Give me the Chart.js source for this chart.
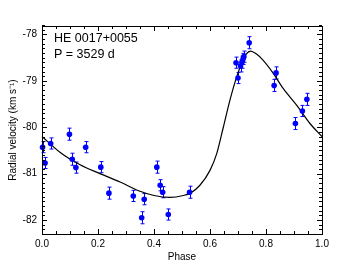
<!DOCTYPE html>
<html>
<head>
<meta charset="utf-8">
<script src="https://cdn.jsdelivr.net/npm/chart.js@4/dist/chart.umd.min.js"></script>
<style>
  html, body { margin: 0; padding: 0; background: #fff; }
  canvas { display: block; }
</style>
</head>
<body>
<canvas id="chart" width="337" height="264"></canvas>
<script>
// observed radial velocities (phase, km/s, error)
const phases = [0.002, 0.011, 0.031, 0.098, 0.108, 0.121, 0.156, 0.210, 0.239,
    0.326, 0.356, 0.365, 0.410, 0.422, 0.431, 0.451, 0.527,
    0.693, 0.700, 0.709, 0.714, 0.718, 0.721, 0.740,
    0.829, 0.836, 0.905, 0.930, 0.946]
const velocities = [-80.43, -80.77, -80.35, -80.15, -80.69, -80.87, -80.43, -80.86, -81.42,
    -81.48, -81.95, -81.55, -80.86, -81.25, -81.40, -81.88, -81.40,
    -78.61, -78.94, -78.68, -78.60, -78.53, -78.48, -78.18,
    -79.10, -78.83, -79.92, -79.65, -79.40]
const errors = [0.12, 0.12, 0.12, 0.13, 0.13, 0.12, 0.12, 0.12, 0.13,
    0.12, 0.13, 0.12, 0.13, 0.12, 0.12, 0.12, 0.13,
    0.12, 0.12, 0.13, 0.13, 0.12, 0.12, 0.13,
    0.13, 0.13, 0.13, 0.12, 0.13]

// orbit fit
const fitPhase = [0.0, 0.064, 0.136, 0.207, 0.279, 0.35, 0.40, 0.457, 0.505, 0.53, 0.564,
    0.60, 0.624, 0.648, 0.671, 0.695, 0.713, 0.73, 0.745, 0.765, 0.79, 0.826, 0.862,
    0.91, 0.957, 1.0]
const fitVelocity = [-80.20, -80.54, -80.81, -81.00, -81.18, -81.38, -81.47, -81.51, -81.47, -81.42, -81.25,
    -80.93, -80.57, -79.99, -79.42, -78.92, -78.63, -78.42, -78.36, -78.42, -78.56, -78.84, -79.17,
    -79.53, -79.92, -80.20]

const xTicks = [0, 0.2, 0.4, 0.6, 0.8, 1.0]
const yTicks = [-82, -81, -80, -79, -78]
const labelLines = ['HE 0017+0055', 'P = 3529 d']

const font = { family: "'Liberation Sans', Arial, sans-serif", size: 10 }

const frame = {
    id: 'frame',
    beforeDatasetsDraw(chart) {
        // error bars
        const { ctx, scales: { x, y } } = chart
        ctx.save()
        ctx.strokeStyle = '#0000ff'
        ctx.lineWidth = 1
        phases.forEach((p, i) => {
            const px = Math.round(x.getPixelForValue(p)) + 0.5
            const top = y.getPixelForValue(velocities[i] + errors[i])
            const bot = y.getPixelForValue(velocities[i] - errors[i])
            ctx.beginPath()
            ctx.moveTo(px, top); ctx.lineTo(px, bot)
            ctx.moveTo(px - 2, top); ctx.lineTo(px + 2, top)
            ctx.moveTo(px - 2, bot); ctx.lineTo(px + 2, bot)
            ctx.stroke()
        })
        ctx.restore()
    },
    afterDraw(chart) {
        const { ctx, chartArea: a, scales: { x, y } } = chart
        ctx.save()
        ctx.strokeStyle = '#000'
        ctx.lineWidth = 1
        ctx.strokeRect(a.left + 0.5, a.top + 0.5, a.right - a.left, a.bottom - a.top)
        ctx.beginPath()
        for (let i = 0; i <= 20; i++) {
            const v = i * 0.05
            const px = Math.round(x.getPixelForValue(v)) + 0.5
            const len = i % 4 === 0 ? 5 : 3
            ctx.moveTo(px, a.bottom); ctx.lineTo(px, a.bottom - len)
            ctx.moveTo(px, a.top); ctx.lineTo(px, a.top + len)
        }
        for (let i = -823; i <= -778; i++) {
            const v = i / 10
            const py = Math.round(y.getPixelForValue(v)) + 0.5
            const len = i % 10 === 0 ? 5 : 3
            ctx.moveTo(a.left, py); ctx.lineTo(a.left + len, py)
            ctx.moveTo(a.right, py); ctx.lineTo(a.right - len, py)
        }
        ctx.stroke()

        ctx.fillStyle = '#000'
        ctx.font = "12.5px 'Liberation Sans', Arial, sans-serif"
        ctx.textBaseline = 'alphabetic'
        ctx.fillText(labelLines[0], 54, 42)
        ctx.fillText(labelLines[1], 54, 57.5)
        ctx.restore()
    }
}

new Chart(document.getElementById('chart'), {
    type: 'scatter',
    data: {
        datasets: [{
            data: phases.map((p, i) => ({ x: p, y: velocities[i] })),
            backgroundColor: '#0000ff',
            borderColor: '#0000ff',
            pointRadius: 2.8,
            borderWidth: 0,
            order: 0
        }, {
            data: fitPhase.map((p, i) => ({ x: p, y: fitVelocity[i] })),
            showLine: true,
            borderColor: '#000',
            borderWidth: 1.2,
            pointRadius: 0,
            cubicInterpolationMode: 'monotone',
            order: 1
        }]
    },
    options: {
        responsive: false,
        animation: false,
        clip: false,
        layout: { padding: { left: 0, top: 26, right: 15, bottom: 0 } },
        plugins: { legend: { display: false }, tooltip: { enabled: false } },
        scales: {
            x: {
                type: 'linear', min: 0, max: 1,
                afterBuildTicks: s => { s.ticks = xTicks.map(v => ({ value: v })) },
                afterFit: s => { s.height = 30 },
                grid: { display: false, drawTicks: false, tickLength: 0 },
                border: { display: false },
                ticks: { font, color: '#000', padding: 4, maxRotation: 0,
                    callback: v => Number(v).toFixed(1) },
                title: { display: true, text: 'Phase', font, color: '#000', padding: { top: 0, bottom: 1 } }
            },
            y: {
                type: 'linear', min: -82.3, max: -77.82,
                afterBuildTicks: s => { s.ticks = yTicks.map(v => ({ value: v })) },
                afterFit: s => { s.width = 42 },
                grid: { display: false, drawTicks: false, tickLength: 0 },
                border: { display: false },
                ticks: { font, color: '#000', padding: 5,
                    callback: v => Number(v).toFixed(0) },
                title: { display: true, text: 'Radial velocity (km s\u207B\u00B9)', font, color: '#000',
                    padding: { top: 7, bottom: 0 } }
            }
        }
    },
    plugins: [frame]
})
</script>
</body>
</html>
